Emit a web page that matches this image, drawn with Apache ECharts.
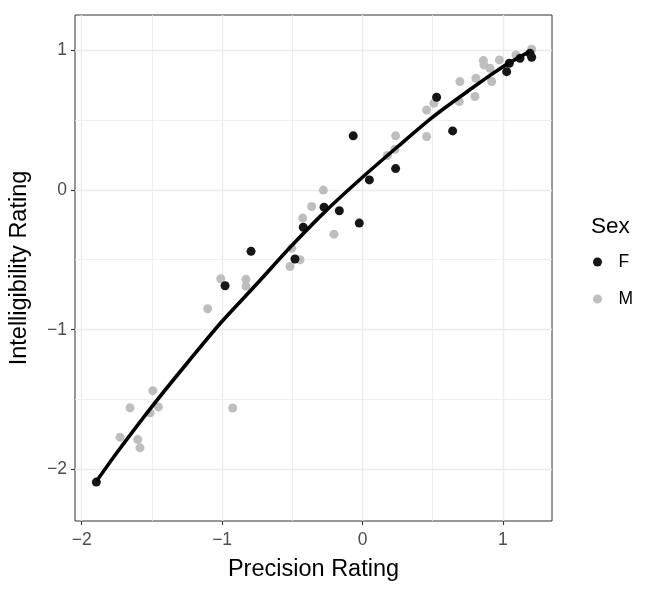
<!DOCTYPE html>
<html>
<head>
<meta charset="utf-8">
<script src="https://cdn.jsdelivr.net/npm/echarts@6/dist/echarts.min.js"></script>
<style>
  html, body { margin: 0; padding: 0; background: #fff; }
  #chart { width: 649px; height: 589px; }
</style>
</head>
<body>
<div id="chart"></div>
<script>
// Sex = F
const femaleX = [-1.896, -0.979, -0.794, -0.481, -0.422, -0.274, -0.165, -0.023, -0.066, 0.049, 0.236, 0.528, 0.642, 1.027, 1.046, 1.122, 1.193, 1.205]
const femaleY = [-2.09, -0.686, -0.44, -0.495, -0.268, -0.124, -0.15, -0.238, 0.386, 0.071, 0.152, 0.662, 0.421, 0.845, 0.905, 0.94, 0.976, 0.948]

// Sex = M
const maleX = [-1.727, -1.656, -1.601, -1.585, -1.513, -1.494, -1.454, -1.103, -1.01, -0.925, -0.83, -0.83, -0.516, -0.504, -0.445, -0.426, -0.362, -0.279, -0.203, 0.177, 0.231, 0.236, 0.457, 0.457, 0.509, 0.69, 0.694, 0.801, 0.808, 0.861, 0.865, 0.908, 0.92, 0.975, 1.093, 1.205]
const maleY = [-1.769, -1.559, -1.786, -1.845, -1.595, -1.436, -1.552, -0.85, -0.636, -1.56, -0.64, -0.69, -0.548, -0.417, -0.5, -0.202, -0.119, -0.002, -0.317, 0.245, 0.29, 0.386, 0.571, 0.381, 0.619, 0.631, 0.774, 0.667, 0.798, 0.924, 0.893, 0.869, 0.774, 0.929, 0.964, 1.005]

// fitted curve
const fitX = [-1.89, -1.75, -1.5, -1.25, -1.0, -0.75, -0.5, -0.25, 0, 0.25, 0.5, 0.75, 1.0, 1.19]
const fitY = [-2.077, -1.88, -1.55, -1.24, -0.94, -0.67, -0.395, -0.14, 0.09, 0.308, 0.52, 0.705, 0.88, 0.988]

const majorTicks = [-2, -1, 0, 1]
const minorTicks = [-1.5, -0.5, 0.5]

const xRange = [-2.048, 1.35]
const yRange = [-2.368, 1.25]

const fontFamily = 'Liberation Sans, Arial, sans-serif'
const fmt = v => (v < 0 ? '\u2212' + Math.abs(v) : String(v))

const zip = (xs, ys) => xs.map((x, i) => [x, ys[i]])

const chart = echarts.init(document.getElementById('chart'))

function mainAxis(range, name, nameGap, margin) {
  return {
    type: 'value',
    min: range[0],
    max: range[1],
    name: name,
    nameGap: nameGap,
    nameLocation: 'middle',
    nameTextStyle: { color: '#000', fontSize: 23.5, fontFamily },
    axisLine: { show: false, onZero: false },
    axisTick: { show: true, length: 4, customValues: majorTicks, lineStyle: { color: '#333333', width: 1.1 } },
    axisLabel: { customValues: majorTicks, color: '#4d4d4d', fontSize: 17.5, fontFamily, formatter: fmt, margin: margin },
    splitLine: { show: true, lineStyle: { color: '#ebebeb', width: 1.4 } }
  }
}

function minorAxis(range) {
  return {
    type: 'value',
    min: range[0],
    max: range[1],
    axisLine: { show: false, onZero: false },
    axisTick: { show: false, customValues: minorTicks },
    axisLabel: { show: false, customValues: minorTicks },
    splitLine: { show: true, lineStyle: { color: '#ebebeb', width: 0.8 } }
  }
}

chart.setOption({
  backgroundColor: '#fff',
  animation: false,
  grid: {
    left: 75,
    top: 15,
    width: 477,
    height: 506,
    show: true,
    borderColor: '#333333',
    borderWidth: 1,
    backgroundColor: 'transparent'
  },
  xAxis: [
    mainAxis(xRange, 'Precision Rating', 37, 10),
    minorAxis(xRange)
  ],
  yAxis: [
    mainAxis(yRange, 'Intelligibility Rating', 43, 8),
    minorAxis(yRange)
  ],
  legend: {
    orient: 'vertical',
    left: 593,
    top: 253,
    padding: 0,
    itemGap: 19,
    itemWidth: 32,
    itemHeight: 9,
    icon: 'circle',
    data: ['F', 'M'],
    textStyle: { color: '#000', fontSize: 17.5, fontFamily }
  },
  graphic: [{
    type: 'text',
    left: 591,
    top: 215,
    style: { text: 'Sex', fontSize: 22.5, fontFamily, fill: '#000' }
  }],
  series: [
    {
      name: 'M',
      type: 'scatter',
      symbolSize: 9,
      itemStyle: { color: '#bebebe', opacity: 1 },
      data: zip(maleX, maleY),
      z: 3
    },
    {
      name: 'F',
      type: 'scatter',
      symbolSize: 9,
      itemStyle: { color: '#161616', opacity: 1 },
      data: zip(femaleX, femaleY),
      z: 4
    },
    {
      name: 'fit',
      type: 'line',
      smooth: 0.3,
      showSymbol: false,
      lineStyle: { color: '#000', width: 3.6 },
      data: zip(fitX, fitY),
      z: 5
    }
  ]
})
</script>
</body>
</html>
